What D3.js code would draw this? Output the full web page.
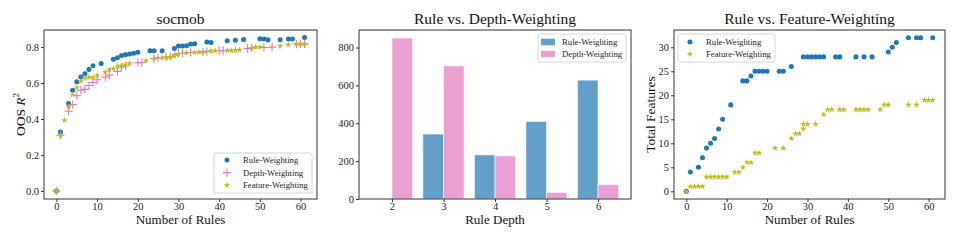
<!DOCTYPE html>
<html>
<head>
<meta charset="utf-8">
<script src="https://cdn.jsdelivr.net/npm/d3@7.9.0/dist/d3.min.js"></script>
<style>
  body { margin: 0; background: #fff; }
  svg { display: block; font-family: "Liberation Serif", "DejaVu Serif", serif; }
</style>
</head>
<body>
<svg id="chart" width="959" height="240"></svg>
<script>
// socmob: OOS R^2 vs number of rules
const ruleX = [0, 1, 3, 4, 5, 6, 7, 8, 9, 11, 14, 15, 16, 17, 18, 19, 20, 23, 24, 26, 29, 30, 31, 32, 33, 34, 37, 38, 42, 44, 46, 50, 51, 52, 55, 57, 58, 61];
const ruleR2 = [0, 0.327, 0.486, 0.56, 0.607, 0.633, 0.652, 0.675, 0.696, 0.709, 0.732, 0.741, 0.753, 0.758, 0.762, 0.766, 0.771, 0.779, 0.779, 0.779, 0.792, 0.806, 0.806, 0.807, 0.817, 0.818, 0.828, 0.826, 0.835, 0.838, 0.842, 0.846, 0.845, 0.84, 0.841, 0.845, 0.845, 0.853];

const depthX = [0, 1, 3, 4, 5, 6, 7, 8, 9, 10, 12, 13, 15, 16, 17, 20, 21, 24, 25, 27, 28, 30, 31, 33, 36, 37, 40, 41, 47, 48, 51, 53, 59, 60, 61];
const depthR2 = [0, 0.31, 0.443, 0.48, 0.53, 0.56, 0.565, 0.586, 0.603, 0.618, 0.633, 0.644, 0.665, 0.688, 0.695, 0.713, 0.714, 0.735, 0.74, 0.745, 0.748, 0.765, 0.766, 0.77, 0.772, 0.775, 0.78, 0.78, 0.792, 0.795, 0.798, 0.8, 0.817, 0.818, 0.818];

const featX = [0, 1, 2, 3, 4, 5, 6, 7, 8, 9, 10, 12, 13, 14, 15, 16, 17, 18, 22, 24, 26, 27, 28, 29, 29, 30, 32, 34, 35, 36, 38, 39, 42, 43, 44, 45, 48, 49, 50, 55, 57, 59, 60, 61];
const featR2 = [0, 0.308, 0.393, 0.467, 0.535, 0.575, 0.61, 0.628, 0.632, 0.632, 0.643, 0.66, 0.675, 0.68, 0.693, 0.697, 0.703, 0.709, 0.725, 0.735, 0.74, 0.743, 0.745, 0.75, 0.755, 0.76, 0.767, 0.77, 0.772, 0.773, 0.778, 0.779, 0.78, 0.78, 0.783, 0.785, 0.795, 0.8, 0.8, 0.805, 0.813, 0.818, 0.818, 0.818];

// total features (third panel)
const ruleFeatures = [0, 4, 5, 7, 9, 10, 11, 13, 15, 18, 23, 23, 24, 25, 25, 25, 25, 25, 25, 26, 28, 28, 28, 28, 28, 28, 28, 28, 28, 28, 28, 29, 30, 31, 32, 32, 32, 32];
const featFeatures = [0, 1, 1, 1, 1, 3, 3, 3, 3, 3, 3, 4, 4, 5, 6, 6, 8, 8, 9, 9, 11, 12, 12, 13, 14, 14, 14, 16, 17, 17, 17, 17, 17, 17, 17, 17, 17, 18, 18, 18, 18, 19, 19, 19];

// rule depth histogram
const depths = [2, 3, 4, 5, 6];
const ruleDepthCounts = [0, 343, 233, 410, 628];
const depthDepthCounts = [850, 703, 228, 35, 75];

const C_BLUE = '#1f77b4', C_PINK = '#e377c2', C_OLIVE = '#bcbd22';
const FONT = '"Liberation Serif", "DejaVu Serif", serif';

const svg = d3.select('#chart');
const plotTop = 30, plotBottom = 199;

const panels = [
  { left: 44, right: 317 },
  { left: 359, right: 631 },
  { left: 674, right: 945 }
];

function frame(g, p) {
  g.append('rect')
    .attr('x', p.left).attr('y', plotTop)
    .attr('width', p.right - p.left).attr('height', plotBottom - plotTop)
    .attr('fill', 'none').attr('stroke', '#333').attr('stroke-width', 1);
}

function drawAxes(g, x, y, xticks, yticks, yfmt) {
  const ax = g.append('g').attr('transform', `translate(0,${plotBottom})`)
    .call(d3.axisBottom(x).tickValues(xticks).tickSize(3).tickPadding(0.5).tickFormat(d3.format('d')));
  const ay = g.append('g').attr('transform', `translate(${x.range()[0]},0)`)
    .call(d3.axisLeft(y).tickValues(yticks).tickSize(3).tickPadding(2).tickFormat(yfmt));
  [ax, ay].forEach(a => {
    a.select('.domain').remove();
    a.selectAll('line').attr('stroke', '#333');
    a.selectAll('text').attr('font-family', FONT).attr('font-size', 10.5).attr('fill', '#222');
  });
}

function title(g, p, txt) {
  g.append('text').attr('x', (p.left + p.right) / 2).attr('y', 24)
    .attr('text-anchor', 'middle').attr('font-size', 15.5).attr('font-family', FONT)
    .attr('fill', '#111').text(txt);
}

function xlabel(g, p, txt) {
  g.append('text').attr('x', (p.left + p.right) / 2).attr('y', 223.5)
    .attr('text-anchor', 'middle').attr('font-size', 13).attr('font-family', FONT)
    .attr('fill', '#111').text(txt);
}

const dot = d3.symbol().type(d3.symbolCircle).size(20);
const star = d3.symbol().type(d3.symbolStar).size(14);
const plus = d3.symbol().type(d3.symbolPlus || d3.symbolCross).size(24);

function drawDots(g, xs, ys, x, y, sym, color, stroke) {
  g.append('g').selectAll('path').data(xs.map((d, i) => [d, ys[i]]))
    .join('path')
    .attr('transform', d => `translate(${x(d[0])},${y(d[1])})`)
    .attr('d', sym)
    .attr('fill', stroke ? 'none' : color)
    .attr('stroke', stroke ? color : 'none')
    .attr('stroke-width', stroke ? 1.1 : 0);
}

function legendBox(g, x0, y0, w, h) {
  g.append('rect').attr('x', x0).attr('y', y0).attr('width', w).attr('height', h)
    .attr('rx', 2).attr('fill', '#fff').attr('fill-opacity', 0.8)
    .attr('stroke', '#ccc').attr('stroke-width', 0.8);
}
function legendText(g, x0, y0, txt) {
  g.append('text').attr('x', x0).attr('y', y0).attr('dy', '0.35em')
    .attr('font-size', 8.7).attr('font-family', FONT).attr('fill', '#222').text(txt);
}

// ---- panel 1: socmob ----
{
  const p = panels[0];
  const g = svg.append('g');
  const x = d3.scaleLinear().domain([-3.05, 64.05]).range([p.left, p.right]);
  const y = d3.scaleLinear().domain([-0.045, 0.895]).range([plotBottom, plotTop]);
  drawDots(g, ruleX, ruleR2, x, y, dot, C_BLUE, false);
  drawDots(g, depthX, depthR2, x, y, plus, C_PINK, true);
  drawDots(g, featX, featR2, x, y, star, C_OLIVE, false);
  frame(g, p);
  drawAxes(g, x, y, d3.range(0, 61, 10), [0, 0.2, 0.4, 0.6, 0.8], d3.format('.1f'));
  title(g, p, 'socmob');
  xlabel(g, p, 'Number of Rules');
  const yl = g.append('text').attr('transform', `translate(25,${(plotTop + plotBottom) / 2}) rotate(-90)`)
    .attr('text-anchor', 'middle').attr('font-size', 13.5).attr('font-family', FONT).attr('fill', '#111');
  yl.append('tspan').text('OOS ');
  yl.append('tspan').attr('font-style', 'italic').text('R');
  yl.append('tspan').attr('font-size', 9).attr('dy', -6).text('2');

  const lg = g.append('g');
  legendBox(lg, 214, 153, 98, 40);
  const names = ['Rule-Weighting', 'Depth-Weighting', 'Feature-Weighting'];
  const syms = [[dot, C_BLUE, false], [plus, C_PINK, true], [star, C_OLIVE, false]];
  names.forEach((n, i) => {
    const yy = 160 + i * 12.6;
    const s = syms[i];
    lg.append('path').attr('transform', `translate(227,${yy})`).attr('d', s[0])
      .attr('fill', s[2] ? 'none' : s[1]).attr('stroke', s[2] ? s[1] : 'none').attr('stroke-width', 1.1);
    legendText(lg, 243, yy, n);
  });
}

// ---- panel 2: rule depth bars ----
{
  const p = panels[1];
  const g = svg.append('g');
  const x = d3.scaleLinear().domain([1.36, 6.64]).range([p.left, p.right]);
  const y = d3.scaleLinear().domain([0, 892.5]).range([plotBottom, plotTop]);
  const bw = 0.4;
  g.append('g').selectAll('rect').data(depths.map((d, i) => [d, ruleDepthCounts[i]]))
    .join('rect')
    .attr('x', d => x(d[0] - bw)).attr('width', x(bw) - x(0))
    .attr('y', d => y(d[1])).attr('height', d => y(0) - y(d[1]))
    .attr('fill', C_BLUE).attr('fill-opacity', 0.7).attr('stroke', '#fff').attr('stroke-width', 0.6);
  g.append('g').selectAll('rect').data(depths.map((d, i) => [d, depthDepthCounts[i]]))
    .join('rect')
    .attr('x', d => x(d[0])).attr('width', x(bw) - x(0))
    .attr('y', d => y(d[1])).attr('height', d => y(0) - y(d[1]))
    .attr('fill', C_PINK).attr('fill-opacity', 0.7).attr('stroke', '#fff').attr('stroke-width', 0.6);
  frame(g, p);
  drawAxes(g, x, y, depths, [0, 200, 400, 600, 800], d3.format('d'));
  title(g, p, 'Rule vs. Depth-Weighting');
  xlabel(g, p, 'Rule Depth');

  const lg = g.append('g');
  legendBox(lg, 538, 34, 88, 28);
  [['Rule-Weighting', C_BLUE], ['Depth-Weighting', C_PINK]].forEach((d, i) => {
    const yy = 42 + i * 12;
    lg.append('rect').attr('x', 541).attr('y', yy - 3.3).attr('width', 14).attr('height', 6.6)
      .attr('fill', d[1]).attr('fill-opacity', 0.7);
    legendText(lg, 562, yy, d[0]);
  });
}

// ---- panel 3: total features ----
{
  const p = panels[2];
  const g = svg.append('g');
  const x = d3.scaleLinear().domain([-3.05, 64.05]).range([p.left, p.right]);
  const y = d3.scaleLinear().domain([-1.6, 33.6]).range([plotBottom, plotTop]);
  drawDots(g, ruleX, ruleFeatures, x, y, dot, C_BLUE, false);
  drawDots(g, featX, featFeatures, x, y, star, C_OLIVE, false);
  frame(g, p);
  drawAxes(g, x, y, d3.range(0, 61, 10), d3.range(0, 31, 5), d3.format('d'));
  title(g, p, 'Rule vs. Feature-Weighting');
  xlabel(g, p, 'Number of Rules');
  g.append('text').attr('transform', `translate(655,${(plotTop + plotBottom) / 2}) rotate(-90)`)
    .attr('text-anchor', 'middle').attr('font-size', 13.5).attr('font-family', FONT)
    .attr('fill', '#111').text('Total Features');

  const lg = g.append('g');
  legendBox(lg, 678, 34, 97, 28);
  [['Rule-Weighting', dot, C_BLUE], ['Feature-Weighting', star, C_OLIVE]].forEach((d, i) => {
    const yy = 42 + i * 12;
    lg.append('path').attr('transform', `translate(690,${yy})`).attr('d', d[1]).attr('fill', d[2]);
    legendText(lg, 706, yy, d[0]);
  });
}
</script>
</body>
</html>
